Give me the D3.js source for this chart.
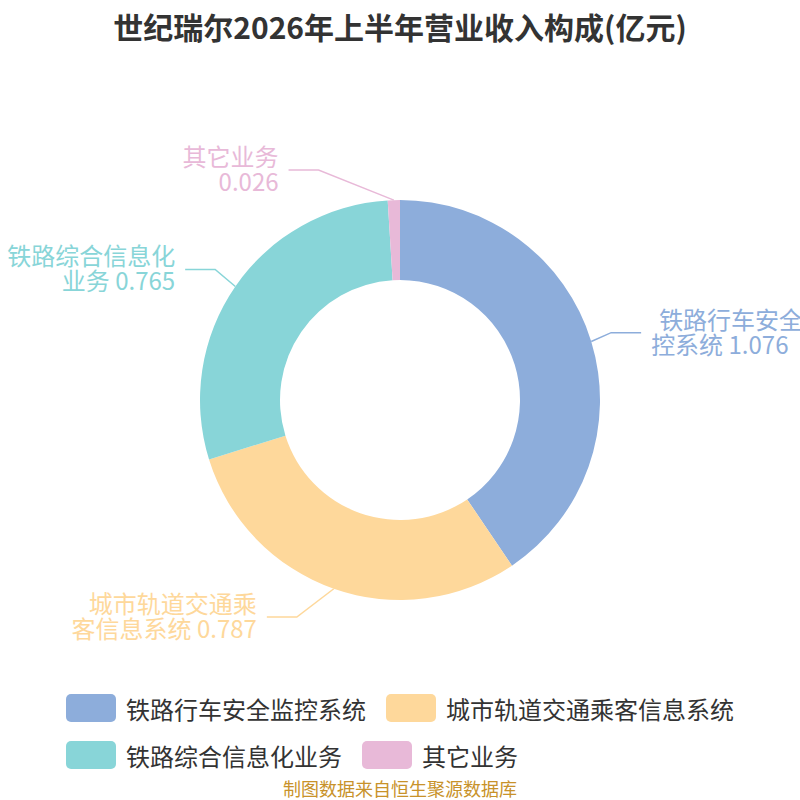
<!DOCTYPE html>
<html>
<head>
<meta charset="utf-8">
<script src="https://cdn.jsdelivr.net/npm/d3@7/dist/d3.min.js"></script>
<style>
  html, body { margin: 0; padding: 0; background: #fff; }
  svg { display: block; }
  text { font-family: "Noto Sans CJK SC", "Noto Sans", sans-serif; }
</style>
</head>
<body>
<svg id="chart" width="800" height="800"></svg>
<script>
// data
var categories = ["铁路行车安全监控系统", "城市轨道交通乘客信息系统", "铁路综合信息化业务", "其它业务"];
var values = [1.076, 0.787, 0.765, 0.026];
var valueLabels = ["1.076", "0.787", "0.765", "0.026"];
var colors = ["#8daddb", "#fed89b", "#88d5d8", "#e8b9d8"];

var title = "世纪瑞尔2026年上半年营业收入构成(亿元)";
var source = "制图数据来自恒生聚源数据库";

var W = 800, H = 800;
var cx = 400, cy = 400;
var outerR = 200, innerR = 120;
var len1 = 30, len2 = 30, labelGap = 10;
var fontSize = 24, lineH = 25;

var svg = d3.select("#chart");

svg.append("text")
  .attr("x", W / 2)
  .attr("y", 26)
  .attr("text-anchor", "middle")
  .attr("dominant-baseline", "central")
  .attr("font-size", 30)
  .attr("font-weight", "bold")
  .attr("fill", "#333")
  .text(title);

var data = categories.map(function(c, i) {
  return { name: c, value: values[i], label: valueLabels[i], color: colors[i] };
});

var pie = d3.pie().sort(null).value(function(d) { return d.value; });
var arcs = pie(data);

var arc = d3.arc().innerRadius(innerR).outerRadius(outerR);

var g = svg.append("g").attr("transform", "translate(" + cx + "," + cy + ")");

g.selectAll("path.slice")
  .data(arcs)
  .enter().append("path")
  .attr("class", "slice")
  .attr("d", arc)
  .attr("fill", function(d) { return d.data.color; });

// label layout: elbow on r+len1, then x pushed onto a circle of r+len1+len2
var labels = arcs.map(function(a) {
  var mid = (a.startAngle + a.endAngle) / 2;
  var sx = Math.sin(mid), sy = -Math.cos(mid);
  var dir = sx < 0 ? -1 : 1;
  return {
    d: a,
    dir: dir,
    p0: [outerR * sx, outerR * sy],
    y: (outerR + len1) * sy,
    x: (outerR + len1) * sx + dir * len2
  };
});

function changeX(list, isDown) {
  var last = isDown ? Number.MAX_VALUE : 0;
  var R = outerR + len1 + len2;
  list.forEach(function(l) {
    var dy = Math.abs(l.y);
    var dx = dy < outerR + len1 ? Math.sqrt(R * R - dy * dy) : Math.abs(l.x);
    if (isDown && dx >= last) dx = last - 10;
    if (!isDown && dx <= last) dx = last + 10;
    l.x = dx * l.dir;
    last = dx;
  });
}

[-1, 1].forEach(function(dir) {
  var side = labels.filter(function(l) { return l.dir === dir; })
    .sort(function(a, b) { return a.y - b.y; });
  changeX(side.filter(function(l) { return l.y < 0; }), false);
  changeX(side.filter(function(l) { return l.y >= 0; }), true);
});

labels.forEach(function(l) {
  var lineEnd = l.x - l.dir * labelGap;
  var elbow = lineEnd - l.dir * len2;
  var pts = [l.p0, [elbow, l.y], [lineEnd, l.y]];
  g.append("path")
    .attr("d", d3.line()(pts))
    .attr("fill", "none")
    .attr("stroke", l.d.data.color)
    .attr("stroke-width", 1.5);

  // wrap name every 7 chars; value goes after the last chunk
  var name = l.d.data.name, chunks = [];
  for (var i = 0; i < name.length; i += 7) chunks.push(name.slice(i, i + 7));
  if (chunks.length === 1) chunks.push(l.d.data.label);
  else chunks[chunks.length - 1] += " " + l.d.data.label;

  var t = g.append("text")
    .attr("font-size", fontSize)
    .attr("fill", l.d.data.color)
    .attr("text-anchor", l.dir < 0 ? "end" : "start")
    .attr("xml:space", "preserve");
  var y0 = l.y - (chunks.length - 1) * lineH / 2 - 2;
  chunks.forEach(function(c, i) {
    t.append("tspan")
      .attr("x", l.x)
      .attr("dx", l.dir > 0 && i === 0 && chunks.length > 1 ? 8 : 0)
      .attr("y", y0 + i * lineH)
      .attr("dominant-baseline", "central")
      .text(c);
  });
});

// legend: rows left aligned, block centred
var legendRows = [[0, 1], [2, 3]];
var boxW = 50, boxH = 28, boxGap = 10, itemGap = 20, rowStep = 47, legendTop = 694;

var measure = svg.append("text").attr("font-size", fontSize).attr("visibility", "hidden");
function textW(s) { measure.text(s); return measure.node().getComputedTextLength(); }

var rowWidths = legendRows.map(function(r) {
  return d3.sum(r, function(i) { return boxW + boxGap + textW(categories[i]); }) + itemGap * (r.length - 1);
});
var legendLeft = (W - d3.max(rowWidths)) / 2;
measure.remove();

var legend = svg.append("g");
legendRows.forEach(function(r, ri) {
  var x = legendLeft;
  var y = legendTop + ri * rowStep;
  r.forEach(function(i) {
    legend.append("rect")
      .attr("x", x).attr("y", y)
      .attr("width", boxW).attr("height", boxH)
      .attr("rx", 5).attr("ry", 5)
      .attr("fill", colors[i]);
    var tx = legend.append("text")
      .attr("x", x + boxW + boxGap)
      .attr("y", y + boxH / 2)
      .attr("dominant-baseline", "central")
      .attr("font-size", fontSize)
      .attr("fill", "#333")
      .text(categories[i]);
    x += boxW + boxGap + tx.node().getComputedTextLength() + itemGap;
  });
});

svg.append("text")
  .attr("x", W / 2)
  .attr("y", 788)
  .attr("text-anchor", "middle")
  .attr("dominant-baseline", "central")
  .attr("font-size", 18)
  .attr("fill", "#c8922a")
  .text(source);
</script>
</body>
</html>
